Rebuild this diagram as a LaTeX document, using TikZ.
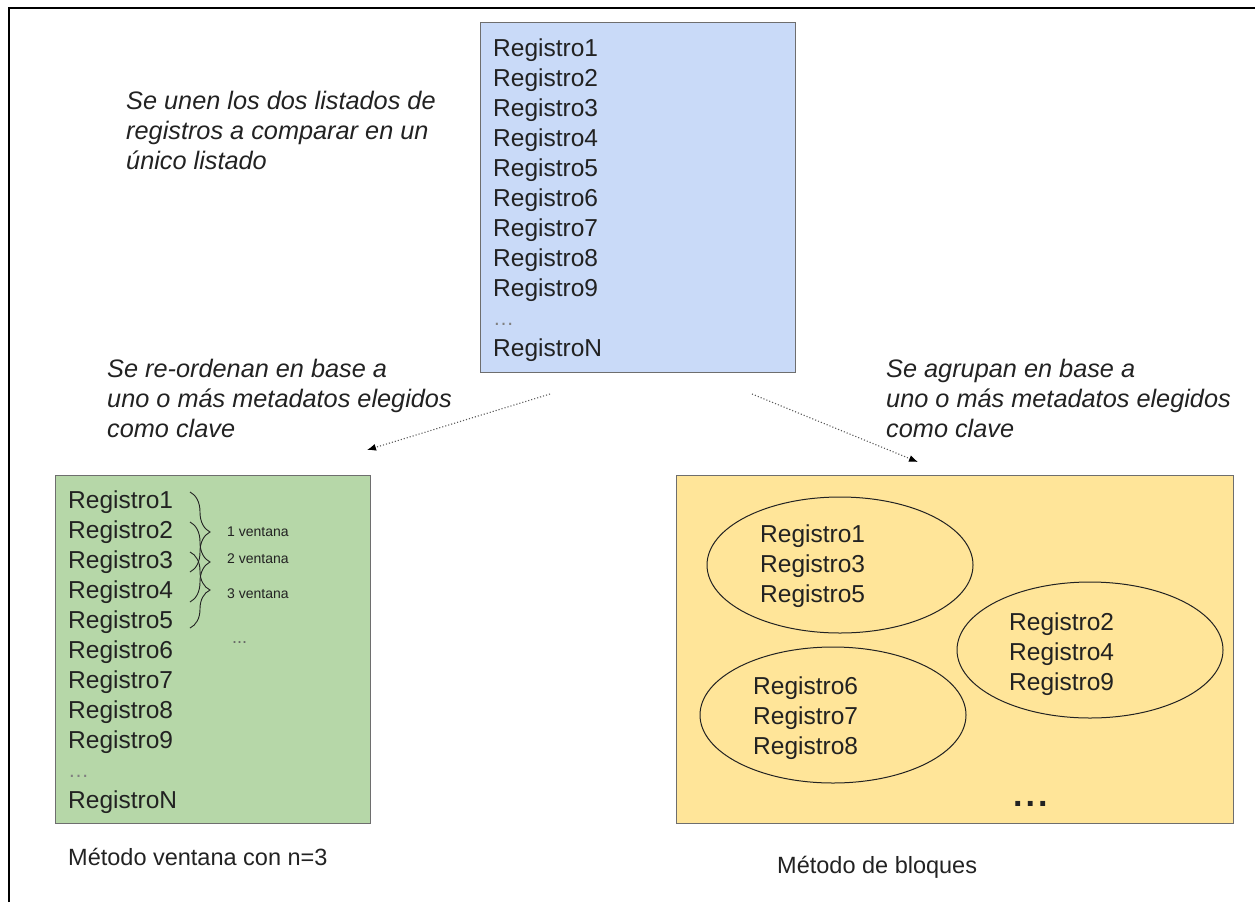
\documentclass[tikz,border=0pt]{standalone}
\usepackage{fontspec}
\setmainfont{Liberation Sans}
\usetikzlibrary{arrows.meta,positioning,shapes.geometric,decorations.pathreplacing}
\definecolor{azul}{HTML}{C9DAF8}
\definecolor{verde}{HTML}{B6D7A8}
\definecolor{amarillo}{HTML}{FFE599}
\definecolor{borde}{HTML}{6E6E6E}
\definecolor{tinta}{HTML}{222222}

\begin{document}
\begin{tikzpicture}[x=1pt,y=-1pt,
    caja/.style={draw=borde,line width=1.3pt,anchor=north west,inner sep=0pt},
    reg/.style={font=\fontsize{24.5}{30}\selectfont,anchor=base west,inner sep=0pt,text=tinta},
    nota/.style={font=\fontsize{25.3}{30}\selectfont\itshape,align=left,anchor=north west,inner sep=0pt,text=tinta},
    ventana/.style={font=\fontsize{14}{16}\selectfont,anchor=west,inner sep=0pt,text=tinta},
    grupo/.style={ellipse,draw=tinta,line width=1pt,minimum width=266pt,minimum height=136pt,inner sep=0pt},
    flecha/.style={dotted,line width=1.1pt,draw=black!65,-{Latex[length=9pt,width=7pt,black]}},
    llave/.style={decorate,decoration={brace,amplitude=20pt},line width=0.9pt,draw=tinta}]
\useasboundingbox (0,0) rectangle (1255,902);

% marco
\draw[line width=2.2pt] (9,902) -- (9,8) -- (1255,8);

% listado unico
\node[caja,fill=azul,minimum width=315pt,minimum height=350pt] (unico) at (480,22) {};
\foreach \i in {1,...,9}
    \node[reg] (u\i) at (493,56+30*\i-30) {Registro\i};
\node[reg,text=black!50,font=\fontsize{21}{24}\selectfont] (upuntos) at (493,325) {\dots};
\node[reg] (uN) at (493,356) {RegistroN};

\node[nota] (txtunir) at (126,91) {Se unen los dos listados de\\registros a comparar en un\\único listado};

% metodo ventana
\node[caja,fill=verde,minimum width=315pt,minimum height=348pt] (ordenado) at (55,475) {};
\foreach \i in {1,...,9}
    \node[reg] (o\i) at (68,508+30*\i-30) {Registro\i};
\node[reg,text=black!50,font=\fontsize{21}{24}\selectfont] (opuntos) at (68,777) {\dots};
\node[reg] (oN) at (68,808) {RegistroN};

\draw[llave] (190,492) -- (190,572);
\draw[llave] (190,522) -- (190,602);
\draw[llave] (190,552) -- (190,628);
\node[ventana] (v1) at (227,532) {1 ventana};
\node[ventana] (v2) at (227,559) {2 ventana};
\node[ventana] (v3) at (227,594) {3 ventana};
\node[ventana,text=black!60,font=\fontsize{18}{18}\selectfont] (vpuntos) at (232,643) {...};

\node[nota] (txtorden) at (107,359) {Se re-ordenan en base a\\uno o más metadatos elegidos\\como clave};
\node[reg,font=\fontsize{23.5}{28}\selectfont] (metventana) at (68,865) {Método ventana con n=3};

% metodo de bloques
\node[caja,fill=amarillo,minimum width=557pt,minimum height=348pt] (bloques) at (676,475) {};
\node[grupo] (g1) at (840,565) {};
\node[grupo] (g2) at (1090,650) {};
\node[grupo] (g3) at (833,715) {};
\foreach \r [count=\k] in {1,3,5}
    \node[reg] (g1r\k) at (760,542+30*\k-30) {Registro\r};
\foreach \r [count=\k] in {2,4,9}
    \node[reg] (g2r\k) at (1009,630+30*\k-30) {Registro\r};
\foreach \r [count=\k] in {6,7,8}
    \node[reg] (g3r\k) at (753,694+30*\k-30) {Registro\r};
\node[reg,font=\fontsize{34}{34}\selectfont\bfseries] (bpuntos) at (1013,806) {.\hspace{3pt}.\hspace{3pt}.};

\node[nota] (txtagrupa) at (886,359) {Se agrupan en base a\\uno o más metadatos elegidos\\como clave};
\node[reg,font=\fontsize{23.5}{28}\selectfont] (metbloques) at (777,873) {Método de bloques};

% flechas
\coordinate (salidaizq) at (550,394);
\coordinate (llegadaizq) at (367,450);
\coordinate (salidader) at (752,394);
\coordinate (llegadader) at (918,462);
\draw[flecha] (salidaizq) -- (llegadaizq);
\draw[flecha] (salidader) -- (llegadader);
\end{tikzpicture}
\end{document}
